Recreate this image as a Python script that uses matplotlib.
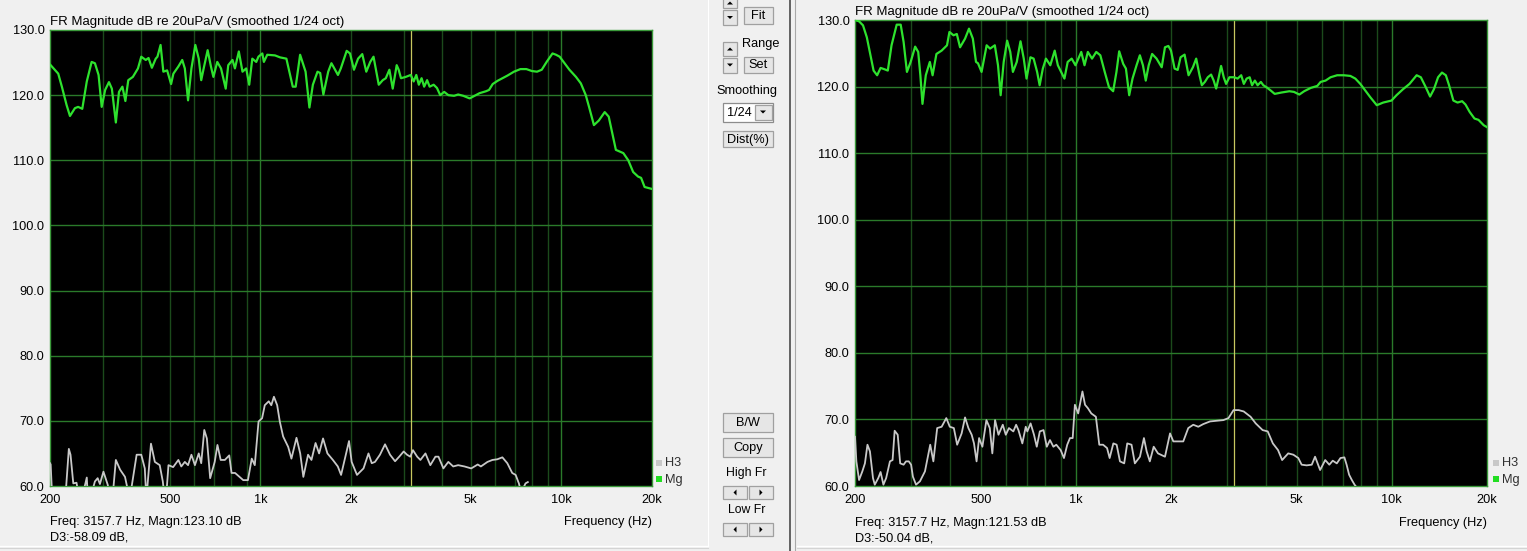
import matplotlib
matplotlib.use("Agg")
import matplotlib.pyplot as plt
from matplotlib.patches import Rectangle, Polygon

plt.rcParams['font.family'] = ['Liberation Sans', 'DejaVu Sans']

# ---------------- data ----------------
title_text = "FR Magnitude dB re 20uPa/V (smoothed 1/24 oct)"
xtick_vals = [200, 500, 1000, 2000, 5000, 10000, 20000]
xtick_labels = ["200", "500", "1k", "2k", "5k", "10k", "20k"]
ytick_vals = [60, 70, 80, 90, 100, 110, 120, 130]
minor_grid_freqs = [300, 400, 500, 600, 700, 800, 900, 2000, 3000, 4000, 5000,
                    6000, 7000, 8000, 9000]
decade_grid_freqs = [1000, 10000]
cursor_freq = 3157.7

left_info = ["Freq: 3157.7 Hz, Magn:123.10 dB", "D3:-58.09 dB,"]
right_info = ["Freq: 3157.7 Hz, Magn:121.53 dB", "D3:-50.04 dB,"]

# Left panel, magnitude (Mg)
L_mg_f = [200, 201, 213, 219, 227, 233, 242, 248, 256, 265,
          275, 282, 290, 297, 305, 314, 321, 331, 339, 348,
          356, 364, 377, 392, 402, 416, 425, 436, 449, 455,
          466, 476, 490, 505, 514, 534, 550, 561, 575, 590,
          608, 624, 636, 648, 668, 685, 698, 719, 740, 767,
          782, 808, 823, 848, 872, 897, 918, 940, 969, 985,
          1015, 1027, 1054, 1118, 1162, 1220, 1281, 1310, 1355, 1379,
          1413, 1455, 1494, 1548, 1580, 1619, 1680, 1722, 1810, 1850,
          1935, 1985, 2046, 2111, 2180, 2248, 2317, 2376, 2473, 2550,
          2610, 2683, 2752, 2837, 2880, 2932, 3040, 3159, 3230, 3296,
          3360, 3432, 3500, 3580, 3650, 3764, 3860, 3958, 4080, 4212,
          4400, 4540, 4720, 4957, 5150, 5346, 5619, 5750, 5912, 6137,
          6373, 6617, 6958, 7310, 7650, 7981, 8300, 8604, 8933, 9344,
          9600, 9870, 10245, 10634, 11180, 11607, 12050, 12355, 12826, 13315,
          13930, 14363, 14726, 15170, 16063, 16678, 17315, 17975, 18400, 18900,
          20000]
L_mg_db = [124.7, 124.6, 123.3, 121.3, 118.5, 116.8, 118.0, 118.2, 117.9, 122.1,
           125.1, 124.9, 123.1, 118.2, 120.8, 122.0, 121.0, 115.8, 120.5, 121.3,
           119.1, 122.3, 122.8, 124.1, 125.9, 125.4, 125.7, 124.2, 125.6, 125.9,
           127.7, 123.6, 123.8, 121.7, 123.3, 124.4, 125.4, 124.1, 119.2, 124.1,
           127.7, 125.6, 122.3, 124.1, 126.9, 124.4, 122.8, 125.1, 124.1, 121.0,
           124.6, 125.4, 124.1, 126.7, 123.6, 124.1, 121.6, 125.6, 125.1, 125.9,
           126.4, 125.1, 126.2, 126.1, 125.8, 125.6, 121.3, 121.3, 126.2, 125.1,
           123.6, 118.1, 121.6, 123.6, 123.4, 120.1, 123.6, 124.9, 123.1, 124.1,
           126.8, 126.4, 123.9, 125.6, 126.3, 123.6, 125.1, 125.9, 121.6, 122.3,
           122.6, 123.9, 121.0, 124.6, 123.9, 122.6, 122.8, 123.1, 122.1, 123.1,
           121.6, 122.6, 121.3, 122.3, 121.3, 121.6, 121.1, 120.0, 120.5, 120.0,
           119.9, 120.1, 119.9, 119.5, 119.9, 120.3, 120.6, 120.8, 121.7, 122.2,
           122.6, 123.0, 123.6, 124.0, 124.0, 123.7, 123.6, 123.9, 125.1, 126.4,
           126.2, 125.9, 124.9, 123.9, 122.8, 121.8, 120.0, 118.2, 115.4, 116.1,
           117.4, 116.7, 114.4, 111.6, 111.1, 110.0, 108.2, 107.5, 107.3, 105.9,
           105.6]

# Left panel, 3rd harmonic (H3)
L_h3_f = [200, 201, 204, 224, 231, 234, 239, 245, 252, 265,
          268, 282, 288, 293, 301, 311, 321, 331, 342, 355,
          368, 388, 402, 413, 418, 433, 446, 463, 474, 484,
          495, 513, 534, 546, 561, 575, 590, 606, 624, 636,
          651, 664, 681, 705, 720, 738, 762, 788, 802, 824,
          877, 909, 936, 958, 986, 1013, 1034, 1066, 1087, 1109,
          1137, 1160, 1190, 1237, 1268, 1318, 1356, 1389, 1440, 1478,
          1525, 1567, 1615, 1670, 1741, 1808, 1854, 1970, 2010, 2094,
          2201, 2286, 2344, 2403, 2496, 2595, 2696, 2802, 2892, 2992,
          3070, 3148, 3213, 3318, 3401, 3535, 3669, 3815, 3905, 4055,
          4211, 4371, 4539, 4765, 5016, 5273, 5402, 5682, 5902, 6124,
          6367, 6612, 6865, 7048, 7224, 7355, 7600, 7735]
L_h3_db = [63.5, 63.3, 57.0, 57.0, 65.7, 64.8, 60.4, 60.5, 57.0, 61.3,
           57.0, 60.7, 61.2, 60.3, 62.2, 60.2, 57.0, 64.0, 62.5, 61.4,
           58.0, 64.8, 64.8, 62.7, 58.0, 66.5, 63.7, 63.2, 60.7, 57.0,
           63.2, 62.9, 64.0, 63.0, 63.7, 63.2, 64.8, 63.2, 65.0, 63.5,
           68.6, 67.3, 61.2, 63.7, 66.3, 64.0, 64.0, 64.7, 62.0, 62.0,
           60.9, 60.9, 64.2, 63.2, 69.9, 70.4, 72.4, 73.0, 72.4, 73.7,
           72.4, 69.9, 67.6, 66.0, 64.2, 67.4, 65.0, 61.4, 64.8, 64.0,
           66.6, 65.0, 67.3, 65.0, 64.0, 63.0, 61.7, 66.9, 63.7, 61.7,
           62.7, 65.0, 63.5, 63.7, 64.8, 66.4, 64.8, 63.8, 64.5, 65.3,
           64.8, 64.5, 65.5, 64.5, 64.0, 65.0, 63.2, 64.5, 64.5, 62.7,
           63.7, 63.0, 63.2, 63.0, 62.7, 63.3, 63.0, 63.7, 64.0, 64.1,
           64.4, 63.5, 62.0, 61.7, 60.4, 59.0, 60.4, 60.6]

# Right panel, magnitude (Mg)
R_mg_f = [200, 206, 212, 218, 225, 229, 235, 241, 248, 254,
          261, 271, 279, 285, 292, 300, 310, 317, 322, 327,
          335, 345, 352, 362, 376, 391, 398, 410, 420, 430,
          446, 459, 472, 483, 490, 503, 522, 535, 554, 567,
          578, 591, 606, 620, 632, 650, 668, 684, 698, 718,
          735, 754, 768, 786, 804, 830, 857, 877, 898, 920,
          942, 970, 997, 1040, 1065, 1091, 1125, 1160, 1195, 1234,
          1273, 1312, 1344, 1371, 1412, 1440, 1475, 1511, 1556, 1594,
          1630, 1664, 1700, 1743, 1800, 1869, 1914, 1962, 2000, 2053,
          2100, 2144, 2208, 2273, 2346, 2403, 2462, 2504, 2560, 2615,
          2679, 2730, 2779, 2826, 2881, 2937, 2988, 3061, 3173, 3250,
          3336, 3400, 3470, 3548, 3610, 3685, 3760, 3849, 3920, 4011,
          4137, 4258, 4466, 4739, 4900, 5095, 5278, 5538, 5808, 5950,
          6168, 6398, 6711, 7043, 7389, 7662, 7946, 8240, 8545, 8958,
          9390, 9973, 10342, 10845, 11372, 11978, 12350, 12803, 13209, 13584,
          14002, 14405, 14818, 15170, 15650, 16138, 16688, 17100, 17621, 18254,
          18800, 19520, 20000]
R_mg_db = [130.0, 129.8, 129.2, 127.4, 124.2, 122.4, 121.7, 122.8, 122.6, 122.4,
           126.2, 129.3, 129.3, 126.7, 122.2, 123.7, 126.0, 125.2, 121.7, 117.4,
           121.7, 123.7, 121.7, 124.9, 125.4, 126.2, 128.2, 127.7, 127.9, 125.9,
           127.2, 128.7, 127.2, 123.7, 123.5, 122.2, 126.2, 125.7, 126.2, 123.2,
           118.7, 123.7, 126.9, 125.2, 122.2, 123.7, 126.8, 124.2, 121.2, 124.4,
           124.2, 122.2, 120.2, 122.7, 124.2, 123.2, 125.4, 123.2, 122.2, 121.2,
           123.7, 124.2, 123.2, 125.2, 123.2, 125.2, 124.2, 125.2, 124.7, 122.2,
           119.9, 119.3, 122.2, 125.3, 123.4, 122.7, 118.7, 121.2, 123.2, 124.7,
           123.2, 120.9, 123.2, 124.9, 124.2, 122.9, 125.9, 126.1, 125.4, 122.7,
           122.5, 124.4, 124.8, 121.7, 122.9, 124.2, 121.7, 120.2, 120.7, 121.4,
           121.8, 120.9, 119.7, 121.2, 123.1, 121.4, 120.4, 121.4, 121.4, 121.2,
           121.7, 120.4, 121.2, 121.4, 120.2, 120.9, 120.2, 120.7, 120.2, 119.9,
           119.4, 118.9, 119.1, 119.3, 119.2, 118.8, 119.3, 119.8, 120.1, 120.7,
           120.9, 121.4, 121.7, 121.7, 121.6, 121.2, 120.4, 119.4, 118.4, 117.2,
           117.6, 117.9, 118.7, 119.6, 120.4, 121.7, 121.4, 119.9, 118.5, 119.6,
           121.4, 122.1, 121.7, 120.2, 117.9, 117.6, 117.8, 117.3, 116.2, 115.2,
           115.0, 114.2, 113.9]

# Right panel, 3rd harmonic (H3)
R_h3_f = [200, 202, 206, 211, 215, 219, 223, 228, 231, 237,
          241, 246, 251, 258, 263, 267, 273, 278, 285, 290,
          296, 301, 305, 312, 321, 333, 346, 354, 364, 376,
          389, 399, 411, 421, 435, 446, 457, 468, 476, 485,
          494, 506, 521, 534, 544, 555, 569, 587, 600, 614,
          634, 647, 658, 677, 694, 702, 719, 737, 752, 769,
          790, 809, 828, 849, 867, 895, 917, 939, 958, 977,
          993, 1017, 1049, 1069, 1091, 1119, 1157, 1186, 1219, 1255,
          1279, 1314, 1346, 1379, 1422, 1454, 1500, 1537, 1595, 1642,
          1675, 1714, 1763, 1819, 1914, 1986, 2034, 2106, 2187, 2268,
          2352, 2440, 2530, 2658, 2795, 2930, 3040, 3155, 3274, 3397,
          3572, 3708, 3898, 4047, 4201, 4362, 4495, 4699, 4878, 5057,
          5181, 5374, 5578, 5714, 5928, 6152, 6339, 6500, 6695, 6875,
          7075, 7190, 7322, 7470, 7619, 7850]
R_h3_db = [67.4, 63.7, 60.9, 62.2, 63.4, 66.2, 65.2, 61.2, 60.2, 61.2,
           62.1, 60.2, 61.2, 63.7, 63.9, 68.3, 67.7, 63.4, 63.2, 63.7,
           63.7, 63.2, 61.4, 60.2, 60.7, 62.2, 66.2, 63.7, 68.7, 68.9,
           70.2, 68.9, 68.7, 66.2, 67.9, 70.3, 68.7, 67.7, 66.4, 63.7,
           67.2, 65.9, 69.9, 68.7, 64.9, 69.9, 67.7, 69.2, 67.7, 68.7,
           68.2, 69.2, 68.4, 66.4, 68.9, 68.2, 69.4, 67.7, 65.9, 68.2,
           68.4, 65.9, 66.9, 65.9, 66.2, 65.4, 64.2, 66.2, 67.2, 67.2,
           72.2, 70.9, 74.2, 72.2, 71.7, 70.9, 70.4, 66.2, 66.2, 65.7,
           64.2, 66.4, 66.2, 63.7, 63.4, 66.4, 66.2, 63.4, 64.4, 67.2,
           65.2, 63.7, 65.9, 64.9, 64.4, 67.9, 66.7, 66.7, 66.7, 68.7,
           69.2, 68.9, 69.3, 69.7, 69.8, 69.9, 70.2, 71.4, 71.4, 71.2,
           70.4, 69.4, 68.4, 68.2, 66.4, 65.4, 63.9, 64.9, 64.7, 64.2,
           63.2, 63.1, 63.2, 64.4, 62.4, 63.9, 63.2, 63.8, 63.4, 64.2,
           64.3, 63.2, 61.7, 60.9, 60.2, 59.4]

# ---------------- styling ----------------
W, H = 1527, 551
BG = '#F0F0F0'
MG_COLOR = '#2EE22E'
H3_COLOR = '#C8C8C8'
HGRID = '#2A7A2A'
VGRID_MINOR = '#1B4A1B'
VGRID_DECADE = '#2A7A2A'
FRAME = '#3A9A3A'
CURSOR = '#C8C860'
FS = 9.2

fig = plt.figure(figsize=(W / 100, H / 100), dpi=100, facecolor=BG)


def px_axes(x0, y0, x1, y1, **kw):
    return fig.add_axes([x0 / W, 1 - y1 / H, (x1 - x0) / W, (y1 - y0) / H], **kw)


def draw_panel(box, mg_f, mg_db, h3_f, h3_db, info):
    ax = px_axes(*box)
    ax.set_facecolor('black')
    ax.set_xscale('log')
    ax.set_xlim(200, 20000)
    ax.set_ylim(60, 130)
    for f in minor_grid_freqs:
        ax.axvline(f, color=VGRID_MINOR, lw=1.0, zorder=1)
    for f in decade_grid_freqs:
        ax.axvline(f, color=VGRID_DECADE, lw=1.0, zorder=1)
    for v in ytick_vals[1:-1]:
        ax.axhline(v, color=HGRID, lw=1.0, zorder=1)
    ax.axvline(cursor_freq, color=CURSOR, lw=0.9, zorder=2)
    ax.plot(h3_f, h3_db, color=H3_COLOR, lw=1.3, zorder=3, solid_joinstyle='round')
    ax.plot(mg_f, mg_db, color=MG_COLOR, lw=1.6, zorder=4, solid_joinstyle='round')
    ax.set_xticks(xtick_vals)
    ax.set_xticklabels(xtick_labels)
    ax.minorticks_off()
    ax.set_yticks(ytick_vals)
    ax.set_yticklabels([f"{v:.1f}" for v in ytick_vals])
    ax.tick_params(length=0, labelsize=FS, colors='black', pad=4)
    ax.tick_params(axis='x', pad=6)
    for s in ax.spines.values():
        s.set_color(FRAME)
        s.set_linewidth(1.0)
    ax.text(0, 1.004, title_text, transform=ax.transAxes, fontsize=FS + 0.3,
            ha='left', va='bottom')
    ax.text(0, -0.066, info[0], transform=ax.transAxes, fontsize=FS,
            ha='left', va='top')
    ax.text(0, -0.099, info[1], transform=ax.transAxes, fontsize=FS,
            ha='left', va='top')
    ax.text(1, -0.066, "Frequency (Hz)", transform=ax.transAxes, fontsize=FS,
            ha='right', va='top')
    return ax


axL = draw_panel((50, 30, 652, 486), L_mg_f, L_mg_db, L_h3_f, L_h3_db, left_info)
axR = draw_panel((855, 20, 1487, 486), R_mg_f, R_mg_db, R_h3_f, R_h3_db, right_info)

# ---------------- UI overlay (pixel coordinates) ----------------
ui = fig.add_axes([0, 0, 1, 1], zorder=-5)
ui.set_xlim(0, W)
ui.set_ylim(H, 0)
ui.axis('off')
ui.patch.set_alpha(0)

# legend chips
for lx in (656, 1493):
    ui.add_patch(Rectangle((lx, 460), 6, 6, color=H3_COLOR, lw=0))
    ui.text(lx + 9, 463.5, "H3", fontsize=FS, va='center', ha='left', color='#303030')
    ui.add_patch(Rectangle((lx, 476), 6, 6, color='#22DD22', lw=0))
    ui.text(lx + 9, 479.5, "Mg", fontsize=FS, va='center', ha='left', color='#303030')


def button(x0, y0, x1, y1, label=None, fs=FS):
    ui.add_patch(Rectangle((x0, y0), x1 - x0, y1 - y0, facecolor='#E6E6E6',
                           edgecolor='#A0A0A0', lw=0.9))
    if label:
        ui.text((x0 + x1) / 2, (y0 + y1) / 2 + 0.5, label, fontsize=fs,
                ha='center', va='center', color='black')


def tri(cx, cy, direction, s=3.0):
    if direction == 'up':
        pts = [(cx - s, cy + s / 2), (cx + s, cy + s / 2), (cx, cy - s / 2)]
    elif direction == 'down':
        pts = [(cx - s, cy - s / 2), (cx + s, cy - s / 2), (cx, cy + s / 2)]
    elif direction == 'left':
        pts = [(cx + s / 2, cy - s), (cx + s / 2, cy + s), (cx - s / 2, cy)]
    else:
        pts = [(cx - s / 2, cy - s), (cx - s / 2, cy + s), (cx + s / 2, cy)]
    ui.add_patch(Polygon(pts, closed=True, color='black', lw=0))


# top spin + Fit
button(723, -2, 737, 8)
tri(730, 3, 'up')
button(723, 10, 737, 25)
tri(730, 17.5, 'down')
button(744, 7, 773, 24, "Fit")
# Range
ui.text(760.5, 44, "Range", fontsize=FS, ha='center', va='center')
button(723, 42, 737, 56)
tri(730, 49, 'up')
button(723, 58, 737, 72.5)
tri(730, 65, 'down')
button(744, 57, 773, 73, "Set")
# Smoothing combo
ui.text(746.5, 91, "Smoothing", fontsize=FS, ha='center', va='center')
ui.add_patch(Rectangle((723, 103), 50, 18.5, facecolor='white', edgecolor='#8C8C8C', lw=0.9))
ui.text(727, 112.5, "1/24", fontsize=FS, ha='left', va='center')
button(755, 105, 771.5, 119.5)
tri(763, 112, 'down')
button(723, 131, 773, 147, "Dist(%)")
# bottom controls
button(723, 413, 773, 432, "B/W")
button(723, 438, 773, 457, "Copy")
ui.text(746.5, 473, "High Fr", fontsize=FS - 0.4, ha='center', va='center')
button(723, 486, 747, 499)
tri(735, 492.5, 'left')
button(748.5, 486, 773, 499)
tri(761, 492.5, 'right')
ui.text(746.5, 510, "Low Fr", fontsize=FS - 0.4, ha='center', va='center')
button(723, 523, 747, 536)
tri(735, 529.5, 'left')
button(748.5, 523, 773, 536)
tri(761, 529.5, 'right')

# window separators
ui.plot([789.5, 789.5], [0, 551], color='#4A4A4A', lw=1.2)
ui.plot([794.5, 794.5], [0, 551], color='#A8A8A8', lw=0.8)
ui.plot([0, 708], [546, 546], color='#FFFFFF', lw=1.0)
ui.plot([0, 708], [547.5, 547.5], color='#D4D4D4', lw=0.8)
ui.plot([708, 708], [0, 546], color='#FFFFFF', lw=0.8)
ui.plot([797, 1527], [546, 546], color='#FFFFFF', lw=1.0)
ui.plot([797, 1527], [547.5, 547.5], color='#D4D4D4', lw=0.8)

fig.savefig("out.png", dpi=100, facecolor=BG)
